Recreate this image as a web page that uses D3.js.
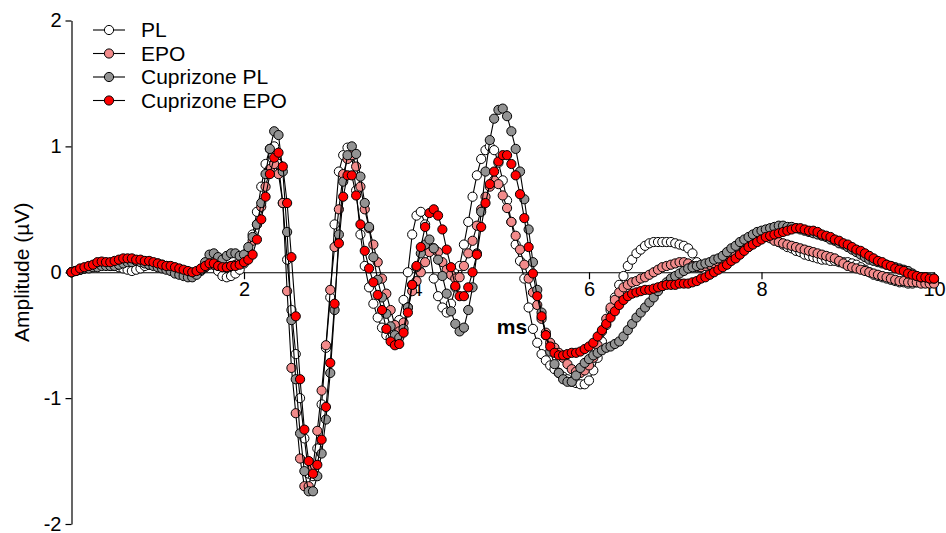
<!DOCTYPE html>
<html>
<head>
<meta charset="utf-8">
<script src="https://cdn.jsdelivr.net/npm/d3@7"></script>
<style>
  body { margin: 0; background: #fff; }
  svg { display: block; font-family: "Liberation Sans", Arial, sans-serif; }
  .axis path, .axis line { stroke: #000; stroke-width: 1.2px; }
  .axis text { font-size: 20px; fill: #000; font-family: "Liberation Sans", Arial, sans-serif; }
</style>
</head>
<body>
<svg id="chart" width="946" height="533"></svg>
<script>
//////////////////// DATA ////////////////////
// sampling step of the recordings (ms), 0..10 ms
const sampleStep = 0.05;

const seriesNames = ["PL", "EPO", "Cuprizone PL", "Cuprizone EPO"];
const seriesFills = ["#ffffff", "#f28b8b", "#939393", "#ff0000"];

const xTicks = [2, 4, 6, 8, 10];
const yTicks = [-2, -1, 0, 1, 2];

// PL
const valuesPL = [
  0.00,0.01,0.02,0.03,0.04,0.05,0.06,0.06,0.06,0.05,0.05,0.04,0.03,0.02,0.01,0.02,0.03,0.05,0.06,0.07,
  0.06,0.05,0.04,0.03,0.02,0.01,0.00,-0.01,-0.02,-0.01,0.01,0.04,0.07,0.06,0.01,-0.03,-0.04,-0.03,-0.01,0.02,
  0.07,0.16,0.30,0.48,0.68,0.86,0.98,1.00,0.86,0.55,0.10,-0.30,-0.65,-1.00,-1.32,-1.60,-1.62,-1.40,-1.05,-0.60,
  -0.20,0.38,0.80,0.93,0.99,0.92,0.65,0.30,0.05,-0.12,-0.25,-0.36,-0.44,-0.50,-0.52,-0.48,-0.38,-0.22,0.00,0.30,
  0.45,0.48,0.38,0.18,-0.05,-0.19,-0.28,-0.32,-0.25,-0.12,0.05,0.22,0.40,0.60,0.77,0.90,0.97,1.00,0.97,0.87,
  0.73,0.57,0.40,0.22,0.09,-0.05,-0.28,-0.45,-0.56,-0.65,-0.70,-0.74,-0.77,-0.80,-0.83,-0.85,-0.87,-0.88,-0.89,-0.89,
  -0.86,-0.78,-0.68,-0.55,-0.42,-0.30,-0.20,-0.10,-0.03,0.05,0.10,0.15,0.18,0.21,0.23,0.24,0.24,0.24,0.24,0.24,
  0.23,0.22,0.21,0.19,0.15,0.08,0.04,0.02,0.02,0.03,0.05,0.07,0.10,0.13,0.16,0.19,0.22,0.24,0.26,0.28,
  0.29,0.29,0.28,0.26,0.24,0.22,0.20,0.19,0.17,0.16,0.14,0.13,0.12,0.11,0.10,0.10,0.09,0.09,0.08,0.08,
  0.08,0.07,0.06,0.04,0.02,0.00,-0.02,-0.03,-0.04,-0.05,-0.06,-0.07,-0.08,-0.08,-0.09,-0.09,-0.08,-0.08,-0.07,-0.07,
  -0.06
];

// EPO
const valuesEPO = [
  0.00,0.01,0.02,0.03,0.04,0.05,0.06,0.07,0.07,0.07,0.08,0.09,0.09,0.10,0.10,0.09,0.09,0.08,0.08,0.07,
  0.07,0.06,0.05,0.04,0.03,0.02,0.01,0.00,-0.01,0.00,0.02,0.04,0.06,0.06,0.05,0.04,0.04,0.05,0.06,0.08,
  0.11,0.17,0.25,0.38,0.52,0.68,0.82,0.86,0.78,0.55,-0.15,-0.76,-1.12,-1.48,-1.70,-1.70,-1.55,-1.26,-0.94,-0.58,
  -0.14,0.20,0.50,0.78,0.90,0.93,0.84,0.68,0.50,0.35,0.22,0.08,-0.05,-0.17,-0.30,-0.42,-0.47,-0.40,-0.28,-0.15,
  -0.07,0.00,0.08,0.16,0.19,0.16,0.08,0.02,-0.02,-0.05,-0.04,0.05,0.15,0.25,0.37,0.50,0.60,0.68,0.73,0.70,
  0.61,0.51,0.40,0.29,0.18,0.06,-0.05,-0.16,-0.26,-0.37,-0.48,-0.56,-0.60,-0.64,-0.68,-0.73,-0.77,-0.79,-0.80,-0.78,
  -0.74,-0.68,-0.58,-0.47,-0.37,-0.28,-0.22,-0.16,-0.12,-0.10,-0.08,-0.07,-0.05,-0.04,-0.02,0.00,0.02,0.04,0.05,0.06,
  0.07,0.08,0.08,0.07,0.05,0.04,0.04,0.05,0.06,0.07,0.08,0.09,0.10,0.12,0.14,0.16,0.18,0.20,0.23,0.26,
  0.28,0.28,0.27,0.25,0.24,0.23,0.22,0.21,0.20,0.19,0.18,0.17,0.16,0.15,0.14,0.13,0.12,0.11,0.09,0.07,
  0.05,0.04,0.03,0.02,0.01,0.00,-0.01,-0.02,-0.03,-0.04,-0.05,-0.06,-0.07,-0.07,-0.08,-0.08,-0.08,-0.09,-0.09,-0.09,
  -0.09
];

// Cuprizone PL
const valuesCupPL = [
  0.00,0.01,0.02,0.03,0.03,0.04,0.04,0.05,0.05,0.05,0.05,0.06,0.07,0.08,0.08,0.09,0.08,0.07,0.06,0.05,
  0.04,0.03,0.02,0.01,-0.01,-0.02,-0.03,-0.04,-0.04,-0.02,0.02,0.08,0.14,0.15,0.12,0.10,0.13,0.15,0.15,0.13,
  0.14,0.20,0.28,0.38,0.55,0.78,0.98,1.12,1.09,0.80,0.32,-0.38,-0.85,-1.28,-1.58,-1.74,-1.74,-1.62,-1.44,-1.17,
  -0.80,-0.30,0.30,0.72,0.93,1.00,0.94,0.76,0.55,0.36,0.12,-0.06,-0.20,-0.33,-0.43,-0.50,-0.52,-0.45,-0.28,-0.10,
  0.04,0.15,0.22,0.26,0.19,0.10,-0.03,-0.17,-0.31,-0.41,-0.47,-0.44,-0.30,-0.12,0.15,0.48,0.80,1.05,1.22,1.29,
  1.30,1.24,1.12,0.98,0.80,0.58,0.34,0.08,-0.14,-0.32,-0.50,-0.63,-0.73,-0.80,-0.85,-0.87,-0.87,-0.82,-0.76,-0.72,
  -0.69,-0.66,-0.64,-0.62,-0.60,-0.59,-0.57,-0.55,-0.51,-0.46,-0.41,-0.36,-0.32,-0.28,-0.24,-0.20,-0.15,-0.11,-0.08,-0.05,
  -0.03,-0.01,0.01,0.03,0.04,0.05,0.06,0.07,0.08,0.10,0.11,0.13,0.16,0.19,0.21,0.24,0.26,0.28,0.30,0.32,
  0.33,0.34,0.35,0.36,0.37,0.37,0.36,0.36,0.35,0.34,0.33,0.32,0.31,0.30,0.29,0.28,0.26,0.25,0.23,0.22,
  0.20,0.18,0.16,0.14,0.12,0.10,0.09,0.08,0.07,0.06,0.05,0.04,0.03,0.02,0.01,-0.01,-0.03,-0.04,-0.04,-0.05,
  -0.05
];

// Cuprizone EPO
const valuesCupEPO = [
  0.00,0.01,0.03,0.04,0.05,0.06,0.08,0.085,0.08,0.08,0.09,0.10,0.11,0.11,0.11,0.10,0.10,0.09,0.09,0.08,
  0.07,0.06,0.05,0.05,0.04,0.03,0.02,0.01,0.00,0.01,0.03,0.05,0.07,0.07,0.05,0.04,0.04,0.05,0.05,0.06,
  0.08,0.10,0.14,0.26,0.42,0.60,0.78,0.91,0.95,0.84,0.55,0.12,-0.35,-0.85,-1.25,-1.50,-1.60,-1.53,-1.33,-1.07,
  -0.72,-0.25,0.23,0.60,0.77,0.77,0.61,0.38,0.17,0.03,-0.08,-0.18,-0.30,-0.45,-0.55,-0.58,-0.57,-0.48,-0.32,-0.10,
  0.05,0.20,0.36,0.47,0.50,0.45,0.34,0.18,0.04,-0.11,-0.19,-0.19,-0.12,0.00,0.14,0.36,0.55,0.70,0.80,0.88,
  0.93,0.93,0.86,0.77,0.62,0.43,0.20,-0.01,-0.19,-0.35,-0.50,-0.59,-0.64,-0.66,-0.66,-0.65,-0.64,-0.64,-0.63,-0.61,
  -0.59,-0.56,-0.51,-0.46,-0.41,-0.36,-0.31,-0.26,-0.22,-0.19,-0.17,-0.16,-0.15,-0.14,-0.14,-0.13,-0.12,-0.11,-0.10,-0.10,
  -0.10,-0.09,-0.09,-0.09,-0.08,-0.07,-0.05,-0.04,-0.02,0.00,0.02,0.04,0.06,0.09,0.11,0.14,0.17,0.20,0.22,0.24,
  0.26,0.28,0.29,0.30,0.31,0.32,0.33,0.34,0.35,0.35,0.34,0.33,0.33,0.32,0.30,0.29,0.28,0.26,0.25,0.23,
  0.22,0.20,0.18,0.17,0.15,0.13,0.11,0.09,0.08,0.06,0.05,0.03,0.02,0.01,-0.01,-0.02,-0.03,-0.04,-0.04,-0.05,
  -0.05
];

const allValues = [valuesPL, valuesEPO, valuesCupPL, valuesCupEPO];

//////////////////// SCALES ////////////////////
const svg = d3.select("#chart");

const x = d3.scaleLinear().domain([0, 10]).range([71.5, 934]);
const y = d3.scaleLinear().domain([-2, 2]).range([524, 20.5]);

//////////////////// AXES ////////////////////
// plain hyphen for negatives, like the original export
svg.append("g")
    .attr("class", "axis")
    .attr("transform", `translate(${x(0)},0)`)
    .call(d3.axisLeft(y).tickValues(yTicks).tickSize(6).tickSizeOuter(0).tickPadding(4).tickFormat(d => String(d)));

svg.append("g")
    .attr("class", "axis")
    .attr("transform", `translate(0,${y(0)})`)
    .call(d3.axisBottom(x).tickValues(xTicks).tickSize(7).tickSizeOuter(0).tickPadding(3).tickFormat(d => String(d)));

// y label
svg.append("text")
    .attr("transform", `translate(29,${y(0)}) rotate(-90)`)
    .attr("text-anchor", "middle")
    .style("font-size", "21px")
    .text("Amplitude (µV)");

// x label
svg.append("text")
    .attr("x", 512)
    .attr("y", 334)
    .attr("text-anchor", "middle")
    .style("font-size", "21px")
    .style("font-weight", "bold")
    .text("ms");

//////////////////// SERIES ////////////////////
const line = d3.line()
    .x((d, i) => x(i * sampleStep))
    .y(d => y(d));

allValues.forEach((vals, k) => {
    const g = svg.append("g");

    g.append("path")
        .datum(vals)
        .attr("d", line)
        .attr("fill", "none")
        .attr("stroke", "#000")
        .attr("stroke-width", 1.1);

    g.selectAll("circle")
        .data(vals)
        .enter()
        .append("circle")
        .attr("cx", (d, i) => x(i * sampleStep))
        .attr("cy", d => y(d))
        .attr("r", 4.6)
        .attr("fill", seriesFills[k])
        .attr("stroke", "#000")
        .attr("stroke-width", 1);
});

//////////////////// LEGEND ////////////////////
const legend = svg.append("g").attr("transform", "translate(93,30)");

seriesNames.forEach((name, k) => {
    const row = legend.append("g").attr("transform", `translate(0,${k * 23.5})`);
    row.append("line")
        .attr("x1", 0).attr("x2", 32)
        .attr("stroke", "#000").attr("stroke-width", 1.1);
    row.append("circle")
        .attr("cx", 16).attr("r", 4.6)
        .attr("fill", seriesFills[k])
        .attr("stroke", "#000");
    row.append("text")
        .attr("x", 48).attr("y", 7)
        .style("font-size", "21px")
        .text(name);
});
</script>
</body>
</html>
